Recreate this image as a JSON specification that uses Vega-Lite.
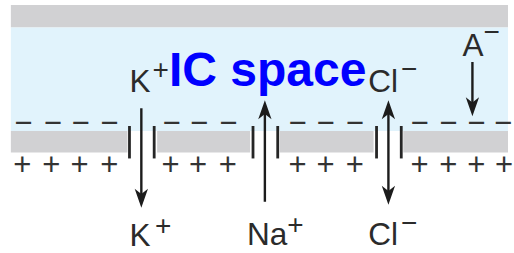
{
  "$schema": "https://vega.github.io/schema/vega-lite/v6.json",
  "width": 514,
  "height": 253,
  "padding": 0,
  "autosize": {"type": "fit", "contains": "padding"},
  "background": "white",
  "config": {"view": {"stroke": null}},
  "datasets": {
    "bands": [
      {"x": 11, "x2": 514, "y": 5, "y2": 28, "band": "membrane"},
      {"x": 11, "x2": 514, "y": 28, "y2": 133, "band": "intracellular"},
      {"x": 11, "x2": 129, "y": 133, "y2": 155, "band": "membrane"},
      {"x": 159, "x2": 253, "y": 133, "y2": 155, "band": "membrane"},
      {"x": 283, "x2": 378, "y": 133, "y2": 155, "band": "membrane"},
      {"x": 408, "x2": 514, "y": 133, "y2": 155, "band": "membrane"}
    ],
    "walls": [
      {"x": 131, "y": 128, "y2": 161},
      {"x": 156, "y": 128, "y2": 161},
      {"x": 256, "y": 128, "y2": 161},
      {"x": 281, "y": 128, "y2": 161},
      {"x": 381, "y": 128, "y2": 161},
      {"x": 406, "y": 128, "y2": 161}
    ],
    "shafts": [
      {"x": 143, "y": 110, "y2": 204, "ion": "K+"},
      {"x": 268, "y": 108, "y2": 205, "ion": "Na+"},
      {"x": 393, "y": 108, "y2": 203, "ion": "Cl-"},
      {"x": 478, "y": 63, "y2": 112, "ion": "A-"}
    ],
    "heads": [
      {"x": 143, "y": 201.5, "dir": "down"},
      {"x": 268, "y": 111.5, "dir": "up"},
      {"x": 393, "y": 111.5, "dir": "up"},
      {"x": 393, "y": 198.5, "dir": "down"},
      {"x": 478, "y": 108.5, "dir": "down"}
    ],
    "charges": [
      {"x": 23.5, "y": 126, "sign": "−"},
      {"x": 53.5, "y": 126, "sign": "−"},
      {"x": 81.5, "y": 126, "sign": "−"},
      {"x": 110.5, "y": 126, "sign": "−"},
      {"x": 173.5, "y": 126, "sign": "−"},
      {"x": 201.5, "y": 126, "sign": "−"},
      {"x": 231, "y": 126, "sign": "−"},
      {"x": 301, "y": 126, "sign": "−"},
      {"x": 329.5, "y": 126, "sign": "−"},
      {"x": 359, "y": 126, "sign": "−"},
      {"x": 424.5, "y": 126, "sign": "−"},
      {"x": 453.5, "y": 126, "sign": "−"},
      {"x": 482, "y": 126, "sign": "−"},
      {"x": 509, "y": 126, "sign": "−"},
      {"x": 22.5, "y": 169, "sign": "+"},
      {"x": 52, "y": 169, "sign": "+"},
      {"x": 80.5, "y": 169, "sign": "+"},
      {"x": 110.5, "y": 169, "sign": "+"},
      {"x": 172.5, "y": 169, "sign": "+"},
      {"x": 200.5, "y": 169, "sign": "+"},
      {"x": 230.5, "y": 169, "sign": "+"},
      {"x": 301, "y": 169, "sign": "+"},
      {"x": 329.5, "y": 169, "sign": "+"},
      {"x": 359, "y": 169, "sign": "+"},
      {"x": 424.5, "y": 169, "sign": "+"},
      {"x": 453.5, "y": 169, "sign": "+"},
      {"x": 482, "y": 169, "sign": "+"},
      {"x": 510, "y": 169, "sign": "+"}
    ],
    "ions": [
      {"x": 131, "y": 93, "label": "K"},
      {"x": 372.5, "y": 93, "label": "Cl"},
      {"x": 468, "y": 57, "label": "A"},
      {"x": 131, "y": 250, "label": "K"},
      {"x": 250, "y": 249, "label": "Na"},
      {"x": 372.5, "y": 249, "label": "Cl"}
    ],
    "superscripts": [
      {"x": 162.5, "y": 72, "label": "+"},
      {"x": 414, "y": 71, "label": "−"},
      {"x": 497.5, "y": 34, "label": "−"},
      {"x": 165, "y": 231, "label": "+"},
      {"x": 299, "y": 230, "label": "+"},
      {"x": 414, "y": 228, "label": "−"}
    ],
    "title": [
      {"x": 171, "y": 87, "label": "IC space"}
    ]
  },
  "encoding": {
    "x": {"field": "x", "type": "quantitative", "axis": null, "scale": {"domain": [0, 514], "nice": false, "zero": false}},
    "y": {"field": "y", "type": "quantitative", "axis": null, "scale": {"domain": [0, 253], "nice": false, "zero": false, "reverse": true}}
  },
  "layer": [
    {
      "data": {"name": "bands"},
      "mark": {"type": "rect"},
      "encoding": {
        "x2": {"field": "x2"},
        "y2": {"field": "y2"},
        "color": {"field": "band", "type": "nominal", "legend": null, "scale": {"domain": ["intracellular", "membrane"], "range": ["#e1f3fc", "#d1d1d3"]}}
      }
    },
    {
      "data": {"name": "walls"},
      "mark": {"type": "rule", "strokeWidth": 2.8, "color": "#262626"},
      "encoding": {"y2": {"field": "y2"}}
    },
    {
      "data": {"name": "shafts"},
      "mark": {"type": "rule", "strokeWidth": 2.4, "color": "#1c1c1c"},
      "encoding": {"y2": {"field": "y2"}}
    },
    {
      "data": {"name": "heads"},
      "mark": {"type": "point", "filled": true, "opacity": 1, "size": 361, "color": "#1c1c1c", "strokeWidth": 0},
      "encoding": {
        "shape": {"field": "dir", "type": "nominal", "legend": null, "scale": {"domain": ["down", "up"], "range": ["M0,1L-0.7,-1L0,-0.45L0.7,-1Z", "M0,-1L-0.7,1L0,0.45L0.7,1Z"]}}
      }
    },
    {
      "data": {"name": "charges"},
      "mark": {"type": "text", "font": "Liberation Sans", "fontSize": 31, "align": "center", "baseline": "middle", "color": "#333333"},
      "encoding": {"text": {"field": "sign"}}
    },
    {
      "data": {"name": "ions"},
      "mark": {"type": "text", "font": "Liberation Sans", "fontSize": 31.5, "align": "left", "baseline": "alphabetic", "color": "#2b2b2b"},
      "encoding": {"text": {"field": "label"}}
    },
    {
      "data": {"name": "superscripts"},
      "mark": {"type": "text", "font": "Liberation Sans", "fontSize": 28, "align": "center", "baseline": "middle", "color": "#2b2b2b"},
      "encoding": {"text": {"field": "label"}}
    },
    {
      "data": {"name": "title"},
      "mark": {"type": "text", "font": "Liberation Sans", "fontSize": 48, "fontWeight": "bold", "align": "left", "baseline": "alphabetic", "color": "#0000ff"},
      "encoding": {"text": {"field": "label"}}
    }
  ]
}
